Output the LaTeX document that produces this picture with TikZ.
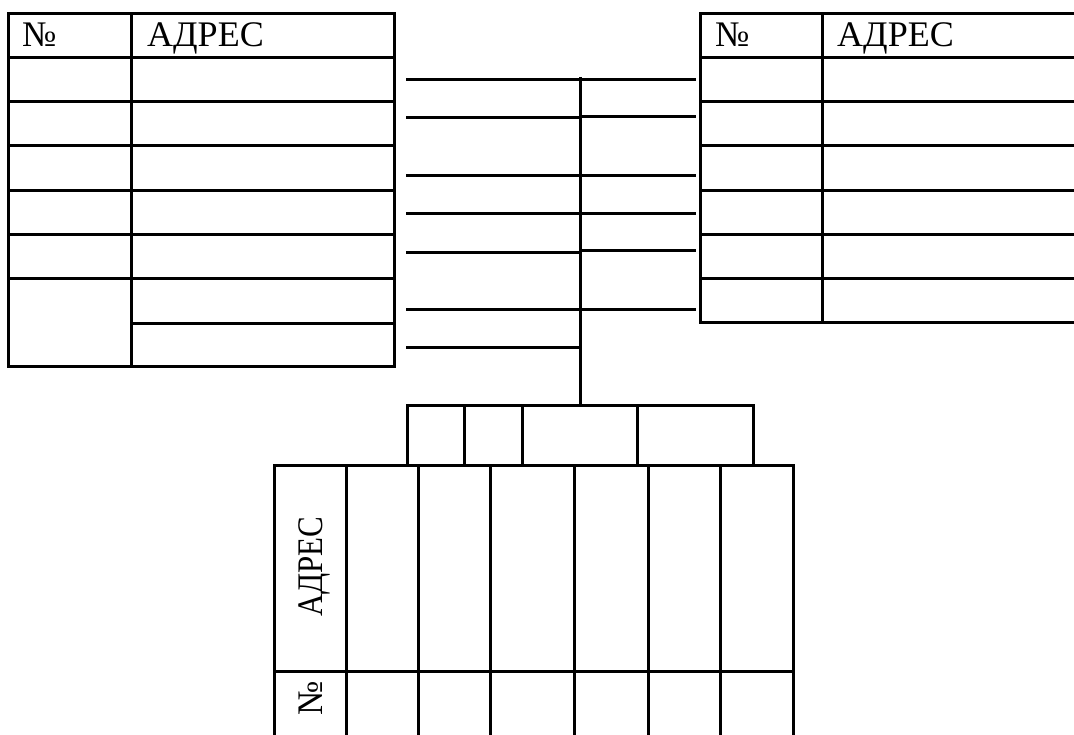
\documentclass[tikz,border=0pt]{standalone}
\usepackage{fontspec}
\setmainfont{Liberation Serif}
\begin{document}
\begin{tikzpicture}[x=1pt,y=-1pt,
  tbl/.style={line width=3pt, line cap=rect},
  conn/.style={line width=2.6pt},
  hdr/.style={inner sep=0pt, anchor=base west, font=\fontsize{36}{40}\selectfont},
  vhdr/.style={inner sep=0pt, anchor=base west, rotate=90, font=\fontsize{36}{40}\selectfont}]
\useasboundingbox (0,0) rectangle (1074,735);

% ---------- left table ----------
\draw[tbl] (8.5,13.5) rectangle (394.5,366.5);
\draw[tbl] (131.5,13.5) -- (131.5,366.5);
\foreach \y in {57.5,101.5,145.5,190.5,234.5,278.5} \draw[tbl] (8.5,\y) -- (394.5,\y);
\draw[tbl] (131.5,323.5) -- (394.5,323.5);
\node[hdr] (lnum) at (22,47) {№};
\node[hdr] (laddr) at (147,47) {АДРЕС};

% ---------- right table ----------
\draw[tbl] (1080,13.5) -- (700.5,13.5) -- (700.5,322.5) -- (1080,322.5);
\draw[tbl] (822.5,13.5) -- (822.5,322.5);
\foreach \y in {57.5,101.5,145.5,190.5,234.5,278.5} \draw[tbl] (700.5,\y) -- (1080,\y);
\node[hdr] (rnum) at (715,47) {№};
\node[hdr] (raddr) at (837,47) {АДРЕС};

% ---------- central trunk ----------
\coordinate (ttop) at (580.5,77);
\coordinate (tbot) at (580.5,405.5);
\draw[conn] (ttop) -- (tbot);
\foreach \y [count=\i] in {79.5,117.5,175.5,213.5,252.5,309.5,347.5} {
  \coordinate (l\i) at (406,\y);
  \coordinate (lt\i) at (580.5,\y);
  \draw[conn] (l\i) -- (lt\i);
}
\foreach \y [count=\i] in {79.5,116.5,175.5,213.5,250.5,309.5} {
  \coordinate (r\i) at (696,\y);
  \coordinate (rt\i) at (580.5,\y);
  \draw[conn] (rt\i) -- (r\i);
}

% ---------- upper box row ----------
\draw[conn] (407.5,465) -- (407.5,405.5) -- (753.5,405.5) -- (753.5,465);
\foreach \x in {464.5,522.5,637.5} \draw[conn] (\x,405.5) -- (\x,465);

% ---------- bottom table ----------
\draw[tbl] (274.5,740) -- (274.5,465.5) -- (793.5,465.5) -- (793.5,740);
\foreach \x in {346.5,418.5,490.5,574.5,648.5,720.5} \draw[tbl] (\x,465.5) -- (\x,740);
\draw[tbl] (274.5,671.5) -- (793.5,671.5);
\node[vhdr] (baddr) at (322,617) {\scalebox{0.86}[1]{АДРЕС}};
\node[vhdr] (bnum) at (322,716) {№};
\end{tikzpicture}
\end{document}
